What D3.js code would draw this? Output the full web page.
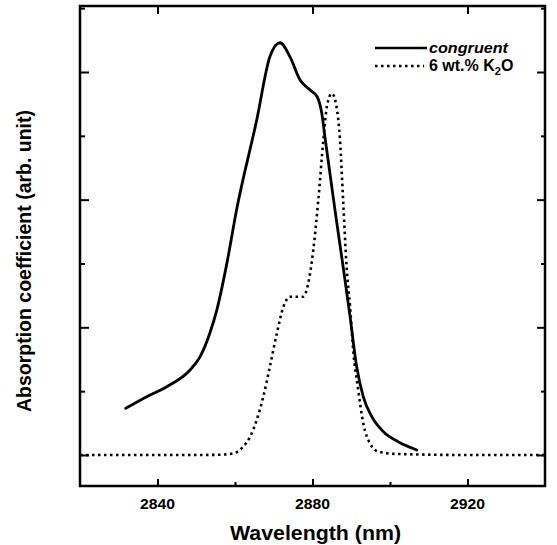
<!DOCTYPE html>
<html>
<head>
<meta charset="utf-8">
<script src="https://cdn.jsdelivr.net/npm/d3@7"></script>
<style>
  body { margin: 0; background: #fff; }
  text { font-family: "Liberation Sans", Arial, sans-serif; fill: #000; }
</style>
</head>
<body>
<div id="chart"></div>
<script>
// wavelength (nm) / absorption (arb. unit)
var congruentWl = [2831.8, 2837.2, 2842.4, 2848.4, 2851.0, 2853.5, 2855.3, 2857.9, 2860.4, 2865.6, 2869.0, 2871.6, 2874.2, 2876.8, 2879.4, 2881.2, 2882.4, 2883.2, 2884.5, 2885.8, 2887.9, 2889.7, 2891.4, 2893.1, 2895.3, 2898.3, 2902.0, 2906.9];
var congruentAbs = [0.366, 0.457, 0.535, 0.666, 0.770, 0.953, 1.135, 1.501, 1.919, 2.623, 3.119, 3.229, 3.119, 2.937, 2.858, 2.806, 2.676, 2.493, 2.206, 1.919, 1.475, 1.083, 0.691, 0.457, 0.300, 0.182, 0.105, 0.039];

var k2oWl = [2820, 2835, 2850, 2856.1, 2859.6, 2862.1, 2863.9, 2865.6, 2867.3, 2869.0, 2870.8, 2872.5, 2874.2, 2877.6, 2878.9, 2880.2, 2881.5, 2882.8, 2883.7, 2885.0, 2886.2, 2887.1, 2887.9, 2888.8, 2889.7, 2890.5, 2891.8, 2893.1, 2894.8, 2897.0, 2901.7, 2920, 2940];
var k2oAbs = [0, 0, 0, 0.002, 0.013, 0.065, 0.143, 0.274, 0.457, 0.691, 0.953, 1.161, 1.240, 1.240, 1.345, 1.605, 1.997, 2.467, 2.727, 2.832, 2.727, 2.467, 1.997, 1.475, 1.161, 0.822, 0.509, 0.248, 0.092, 0.026, 0.008, 0, 0];

var xMajorTicks = [2840, 2880, 2920];
var xMinorTicks = [2860, 2900];
var yMajorTicks = [0, 1, 2, 3];
var yMinorTicks = [0.5, 1.5, 2.5, 3.5];

var legendLabels = ['congruent', '6 wt.% K'];

var width = 557, height = 545;
var frame = {left: 80, right: 545, top: 6, bottom: 486};

var svg = d3.select('#chart')
	.append('svg')
		.attr('width', width)
		.attr('height', height);

var x = d3.scaleLinear()
	.domain([2820, 2940])
	.range([frame.left, frame.right]);

var y = d3.scaleLinear()
	.domain([-0.243, 3.517])
	.range([frame.bottom, frame.top]);

// axes with inward ticks, mirrored on top and right
function tickAxis(axisFn, scale, values, size, tx, ty) {
	svg.append('g')
		.attr('transform', `translate(${tx},${ty})`)
		.call(axisFn(scale).tickValues(values).tickSize(-size).tickFormat(''))
		.call(g => g.select('.domain').remove())
		.call(g => g.selectAll('line').attr('stroke', '#000').attr('stroke-width', 2));
}

tickAxis(d3.axisBottom, x, xMajorTicks, 7, 0, frame.bottom);
tickAxis(d3.axisBottom, x, xMinorTicks, 4, 0, frame.bottom);
tickAxis(d3.axisTop, x, xMajorTicks, 8, 0, frame.top);
tickAxis(d3.axisLeft, y, yMajorTicks, 9, frame.left, 0);
tickAxis(d3.axisLeft, y, yMinorTicks, 5, frame.left, 0);
tickAxis(d3.axisRight, y, yMajorTicks, 8, frame.right, 0);
tickAxis(d3.axisRight, y, yMinorTicks, 4, frame.right, 0);

// frame
svg.append('rect')
	.attr('x', frame.left)
	.attr('y', frame.top)
	.attr('width', frame.right - frame.left)
	.attr('height', frame.bottom - frame.top)
	.attr('fill', 'none')
	.attr('stroke', '#000')
	.attr('stroke-width', 2.5);

// tick labels
svg.append('g')
	.selectAll('text')
	.data(xMajorTicks)
	.join('text')
		.attr('x', d => x(d))
		.attr('y', 509)
		.attr('text-anchor', 'middle')
		.attr('font-size', 14)
		.attr('font-weight', 'bold')
		.attr('textLength', 35)
		.attr('lengthAdjust', 'spacingAndGlyphs')
		.text(d => d);

svg.append('text')
	.attr('x', (frame.left + frame.right) / 2 + 3)
	.attr('y', 540)
	.attr('text-anchor', 'middle')
	.attr('font-size', 21)
	.attr('font-weight', 'bold')
	.attr('textLength', 171)
	.attr('lengthAdjust', 'spacingAndGlyphs')
	.text('Wavelength (nm)');

svg.append('text')
	.attr('transform', 'translate(31,261) rotate(-90)')
	.attr('text-anchor', 'middle')
	.attr('font-size', 21)
	.attr('font-weight', 'bold')
	.attr('textLength', 302)
	.attr('lengthAdjust', 'spacingAndGlyphs')
	.text('Absorption coefficient (arb. unit)');

// curves
var congruent = congruentWl.map((d, i) => ({wl: d, abs: congruentAbs[i]}));
var k2o = k2oWl.map((d, i) => ({wl: d, abs: k2oAbs[i]}));

var line = d3.line()
	.x(d => x(d.wl))
	.y(d => y(d.abs))
	.curve(d3.curveMonotoneX);

svg.append('path')
	.datum(k2o)
	.attr('d', line)
	.attr('fill', 'none')
	.attr('stroke', '#000')
	.attr('stroke-width', 2.6)
	.attr('stroke-dasharray', '2.5,3.5');

svg.append('path')
	.datum(congruent)
	.attr('d', line)
	.attr('fill', 'none')
	.attr('stroke', '#000')
	.attr('stroke-width', 2.8)
	.attr('stroke-linecap', 'round');

// legend
var legend = svg.append('g');

legend.append('line')
	.attr('x1', 375).attr('x2', 427)
	.attr('y1', 48).attr('y2', 48)
	.attr('stroke', '#000')
	.attr('stroke-width', 2.5);

legend.append('text')
	.attr('x', 429)
	.attr('y', 53)
	.attr('font-size', 15)
	.attr('font-weight', 'bold')
	.attr('font-style', 'italic')
	.attr('textLength', 79)
	.attr('lengthAdjust', 'spacingAndGlyphs')
	.text(legendLabels[0]);

legend.append('line')
	.attr('x1', 375).attr('x2', 424)
	.attr('y1', 66).attr('y2', 66)
	.attr('stroke', '#000')
	.attr('stroke-width', 2.5)
	.attr('stroke-dasharray', '2.5,3.5');

var k2oLabel = legend.append('text')
	.attr('x', 429)
	.attr('y', 71)
	.attr('font-size', 16)
	.attr('font-weight', 'bold');
k2oLabel.append('tspan').text(legendLabels[1]);
k2oLabel.append('tspan').attr('font-size', 11).attr('dy', 4).text('2');
k2oLabel.append('tspan').attr('dy', -4).text('O');
</script>
</body>
</html>
